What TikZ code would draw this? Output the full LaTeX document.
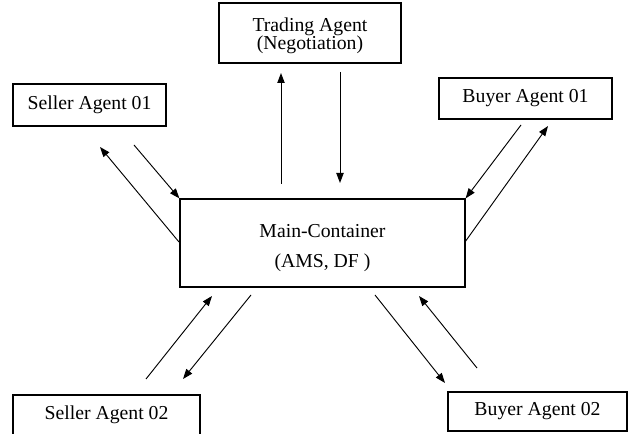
\documentclass[tikz,border=0pt]{standalone}
\usepackage{fontspec}
\setmainfont{Liberation Serif}
\usetikzlibrary{arrows.meta}

\tikzset{
  agent/.style={draw, line width=0.9pt, inner sep=0pt, align=center, font=\fontsize{14.8}{13.5}\selectfont},
  msg/.style={line width=0.7pt, -{Triangle[length=7.5pt,width=5.5pt]}}
}

\begin{document}
\begin{tikzpicture}[x=0.75pt,y=0.75pt,yscale=-1,xscale=1]
    \clip (0,0) rectangle (629,434);

    % Text Node
    \node[agent, minimum width=136.5pt, minimum height=45pt, text height=28.5pt, text depth=3.7pt] (trade) at (310,33) {Trading Agent\\(Negotiation)};
    % Text Node
    \node[agent, minimum width=114.75pt, minimum height=31.5pt] (seller1) at (89.5,105) {Seller Agent 01};
    % Text Node
    \node[agent, minimum width=129.75pt, minimum height=30.75pt] (buyer1) at (525.5,98.5) {Buyer Agent 01};
    % Text Node
    \node[agent, minimum width=213.75pt, minimum height=66pt, text height=40.5pt, text depth=3.7pt, font=\fontsize{14.8}{22.5}\selectfont] (main) at (322.5,243) {Main-Container\\(AMS, DF )};
    % Text Node
    \node[agent, minimum width=140.25pt, minimum height=30pt] (seller2) at (106.5,415) {Seller Agent 02};
    % Text Node
    \node[agent, minimum width=134.25pt, minimum height=29.25pt] (buyer2) at (537.5,411.5) {Buyer Agent 02};

    % free ends
    \coordinate (tradeUp) at (281,184);
    \coordinate (tradeUpTip) at (281,73);
    \coordinate (tradeDown) at (340,72);
    \coordinate (tradeDownTip) at (340,183);
    \coordinate (seller1In) at (134,145);
    \coordinate (seller1Out) at (179,242);
    \coordinate (seller1OutTip) at (100,147);
    \coordinate (buyer1In) at (521,125);
    \coordinate (buyer1Out) at (465,242);
    \coordinate (buyer1OutTip) at (548,126);
    \coordinate (seller2Up) at (146,379);
    \coordinate (seller2UpTip) at (212,296);
    \coordinate (seller2Down) at (251,295);
    \coordinate (seller2DownTip) at (183,379);
    \coordinate (buyer2Down) at (375,295);
    \coordinate (buyer2DownTip) at (445,383);
    \coordinate (buyer2Up) at (477,368);
    \coordinate (buyer2UpTip) at (419,296);

    %Straight Lines
    \draw[msg] (tradeUp) -- (tradeUpTip);
    \draw[msg] (tradeDown) -- (tradeDownTip);
    %Straight Lines
    \draw[msg] (seller1In) -- (main.north west);
    \draw[msg] (seller1Out) -- (seller1OutTip);
    %Straight Lines
    \draw[msg] (buyer1In) -- (main.north east);
    \draw[msg] (buyer1Out) -- (buyer1OutTip);
    %Straight Lines
    \draw[msg] (seller2Up) -- (seller2UpTip);
    \draw[msg] (seller2Down) -- (seller2DownTip);
    %Straight Lines
    \draw[msg] (buyer2Down) -- (buyer2DownTip);
    \draw[msg] (buyer2Up) -- (buyer2UpTip);

\end{tikzpicture}
\end{document}
